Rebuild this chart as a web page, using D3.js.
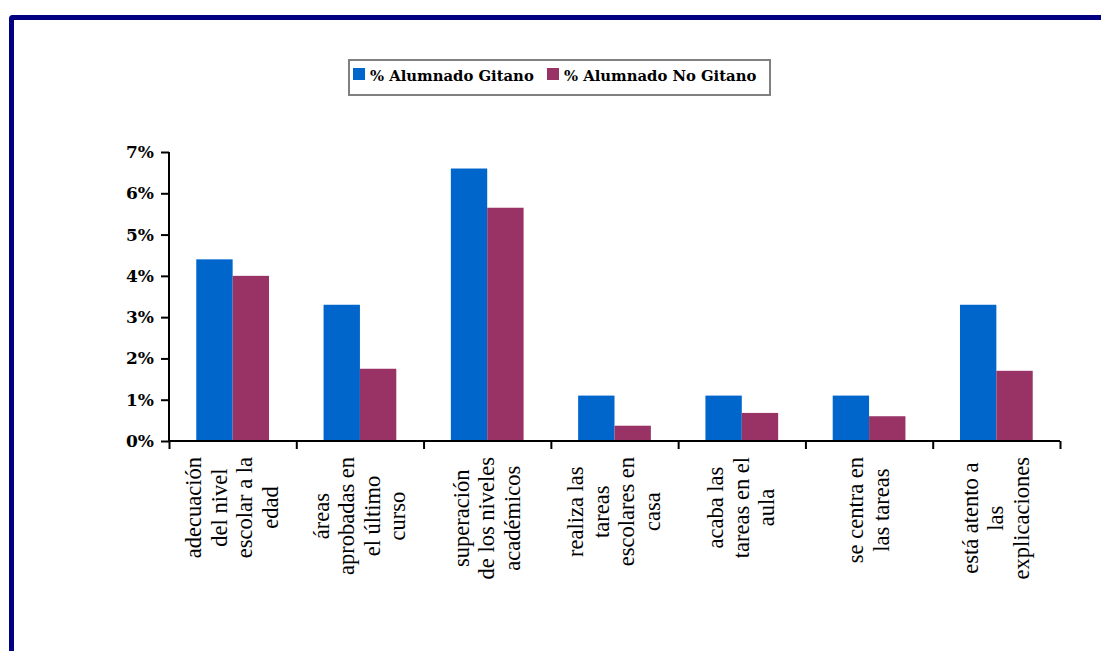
<!DOCTYPE html>
<html><head><meta charset="utf-8">
<script src="https://cdn.jsdelivr.net/npm/d3@7"></script>
<style>body{margin:0;background:#fff}svg{display:block}</style>
</head><body><svg id="c" width="1101" height="651"></svg>
<script>
const categories = [
  ["adecuación","del nivel","escolar a la","edad"],
  ["áreas","aprobadas en","el último","curso"],
  ["superación","de los niveles","académicos"],
  ["realiza las","tareas","escolares en","casa"],
  ["acaba las","tareas en el","aula"],
  ["se centra en","las tareas"],
  ["está atento a","las","explicaciones"]
];
const seriesNames = ["% Alumnado Gitano","% Alumnado No Gitano"];
const gitano   = [0.044, 0.033, 0.066, 0.011, 0.011, 0.011, 0.033];
const noGitano = [0.040, 0.0175, 0.0565, 0.0037, 0.0068, 0.006, 0.017];
const yTicks = [0,0.01,0.02,0.03,0.04,0.05,0.06,0.07];
const colors = ["#0066CC","#993366"];

const svg = d3.select("#c");
// outer frame
svg.append("rect").attr("x",11.5).attr("y",17.5).attr("width",1200).attr("height",800)
  .attr("fill","none").attr("stroke","#000080").attr("stroke-width",5).attr("rx",1);

const L=169,R=1060,T=152,B=441;
const keys = categories.map((c,i)=>i);
const x = d3.scaleBand().domain(keys).range([L,R]).padding(0);
const y = d3.scaleLinear().domain([0,0.07]).range([B,T]);
const bw = x.bandwidth()/3.5;
const xs = d3.scaleBand().domain([0,1]).range([0.75*bw, 2.75*bw]).padding(0);
const series=[gitano,noGitano];

const g = svg.append("g");
series.forEach((s,si)=>{
  g.selectAll(null).data(s).enter().append("rect")
    .attr("x",(d,i)=>x(i)+xs(si)).attr("width",xs.bandwidth())
    .attr("y",d=>y(d)).attr("height",d=>y(0)-y(d)).attr("fill",colors[si]);
});

// y axis
const ya = svg.append("g").attr("transform",`translate(${L},0)`)
  .call(d3.axisLeft(y).tickValues(yTicks).tickFormat(d3.format(".0%")).tickSize(8).tickPadding(7));
ya.select(".domain").attr("stroke","#000").attr("stroke-width",2).attr("d",`M0,${T}V${B}`);
ya.selectAll(".tick line").attr("stroke","#000").attr("stroke-width",2);
ya.selectAll(".tick text").attr("font-family","DejaVu Serif").attr("font-weight","bold")
  .attr("font-size",17).attr("fill","#000");

// x axis
const xb = d3.scaleLinear().domain([0,7]).range([L,R]);
const xa = svg.append("g").attr("transform",`translate(0,${B})`)
  .call(d3.axisBottom(xb).tickValues(d3.range(8)).tickFormat("").tickSize(8).tickSizeOuter(0));
xa.select(".domain").attr("stroke","#000").attr("stroke-width",2).attr("d",`M${L},0H${R}`);
xa.selectAll(".tick line").attr("stroke","#000").attr("stroke-width",2);

// category labels (rotated, multi-line, centered within longest line, top aligned)
const lh = 25.5;
categories.forEach((lines,i)=>{
  const cx = x(i)+x.bandwidth()/2;
  const n = lines.length;
  const grp = svg.append("g");
  const texts = lines.map((t,k)=>grp.append("text").text(t)
    .attr("font-family","Liberation Serif").attr("font-size",22.5).attr("fill","#000")
    .attr("text-anchor","middle"));
  const maxLen = d3.max(texts, t=>t.node().getComputedTextLength());
  const cy = 457 + maxLen/2;
  texts.forEach((t,k)=>{
    const lx = cx + (k-(n-1)/2)*lh + 7;
    t.attr("transform",`translate(${lx},${cy}) rotate(-90)`);
  });
});

// legend
const lg = svg.append("g");
lg.append("rect").attr("x",349).attr("y",60).attr("width",421).attr("height",35)
  .attr("fill","#fff").attr("stroke","#808080").attr("stroke-width",2);
const itemX=[353,547];
seriesNames.forEach((nm,i)=>{
  lg.append("rect").attr("x",itemX[i]).attr("y",68).attr("width",12).attr("height",12).attr("fill",colors[i]);
  lg.append("text").attr("x",itemX[i]+17).attr("y",81).text(nm)
    .attr("font-family","DejaVu Serif").attr("font-weight","bold").attr("font-size",14.8).attr("fill","#000");
});
</script></body></html>
